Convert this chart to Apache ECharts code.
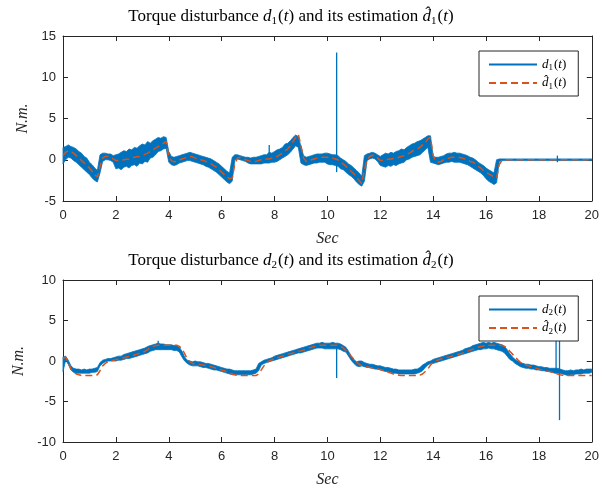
<!DOCTYPE html>
<html>
<head>
<meta charset="utf-8">
<script src="https://cdn.jsdelivr.net/npm/echarts@6/dist/echarts.min.js"></script>
</head>
<body style="margin:0;background:#fff">
<div id="main" style="width:602px;height:489px"></div>
<script>
// samples every 0.1 s, t = 0 .. 20
var dt = 0.1;

// top plot: d1 noisy band (low / high) and the estimate d1hat
var d1Hi = [
  1.5,1.6,1.8,1.6,1.5,1.3,1.0,0.8,0.4,0.2,
  -0.3,-0.6,-1.0,-1.3,0.6,0.8,0.8,0.7,0.7,0.5,
  0.6,0.7,0.9,1.1,1.0,1.3,1.2,1.5,1.4,1.7,
  1.9,1.8,2.2,2.0,2.3,2.5,2.7,2.6,2.8,2.7,
  1.0,0.4,0.3,0.4,0.5,0.6,0.7,0.8,0.9,0.8,
  0.7,0.6,0.5,0.4,0.3,0.2,0.1,-0.1,-0.3,-0.5,
  -0.8,-1.1,-1.4,-1.6,0.3,0.6,0.6,0.5,0.4,0.3,
  0.3,0.2,0.3,0.3,0.4,0.5,0.6,0.6,0.9,0.8,
  1.0,1.2,1.3,1.5,1.9,2.0,2.3,2.7,3.0,2.8,
  1.6,0.5,0.3,0.4,0.5,0.6,0.7,0.7,0.7,0.8,
  0.8,0.7,0.6,0.6,0.5,0.2,0.0,-0.2,-0.5,-0.7,
  -1.0,-1.3,-1.6,-2.0,0.5,0.7,0.8,0.9,0.8,0.6,
  0.4,0.6,0.8,0.7,0.9,0.8,1.0,1.1,1.3,1.2,
  1.5,1.7,1.9,2.0,2.2,2.3,2.5,2.7,2.9,2.9,
  0.4,0.3,0.3,0.4,0.5,0.7,0.8,0.8,0.9,0.8,
  0.8,0.7,0.6,0.5,0.3,0.2,0.0,-0.3,-0.5,-0.7,
  -1.0,-1.2,-1.4,-1.6,0.0,0.1,0.1,0.1,0.1,0.1,
  0.1,0.1,0.1,0.1,0.1,0.1,0.1,0.1,0.1,0.1,
  0.1,0.1,0.1,0.1,0.1,0.1,0.1,0.1,0.1,0.1,
  0.1,0.1,0.1,0.1,0.1,0.1,0.1,0.1,0.1,0.1,
  0.1
];
var d1Lo = [
  -0.5,0.0,0.3,0.2,-0.1,-0.3,-0.6,-0.9,-1.2,-1.5,
  -1.8,-2.2,-2.5,-2.7,-1.6,-0.2,0.0,0.0,-0.1,-0.3,
  -1.1,-1.0,-1.2,-0.9,-0.8,-1.0,-0.7,-0.6,-0.8,-0.4,
  -0.5,-0.2,-0.3,0.2,0.3,0.6,1.0,1.1,1.3,1.4,
  -0.3,-0.6,-0.7,-0.6,-0.4,-0.3,-0.2,-0.1,-0.1,-0.2,
  -0.3,-0.4,-0.5,-0.6,-0.8,-0.9,-1.1,-1.3,-1.5,-1.8,
  -2.1,-2.4,-2.7,-2.9,-2.6,0.0,0.1,0.0,-0.1,-0.2,
  -0.4,-0.5,-0.5,-0.5,-0.5,-0.5,-0.4,-0.4,-0.4,-0.3,
  -0.3,-0.2,0.0,0.2,0.4,0.6,0.9,1.3,1.7,1.5,
  -0.4,-0.6,-0.7,-0.6,-0.5,-0.4,-0.4,-0.3,-0.3,-0.3,
  -0.5,-0.6,-0.6,-0.7,-0.8,-1.1,-1.2,-1.5,-1.8,-2.0,
  -2.3,-2.7,-3.0,-3.2,-2.6,-0.1,0.1,0.2,0.1,-0.2,
  -0.7,-0.8,-0.9,-0.7,-0.8,-0.6,-0.7,-0.5,-0.4,-0.3,
  0.0,0.1,0.3,0.4,0.5,0.6,0.9,1.2,1.5,-0.3,
  -0.4,-0.5,-0.6,-0.5,-0.4,-0.3,-0.3,-0.2,-0.3,-0.3,
  -0.3,-0.4,-0.5,-0.6,-0.8,-1.0,-1.2,-1.4,-1.6,-1.9,
  -2.3,-2.6,-2.8,-3.0,-2.8,-0.2,-0.1,-0.1,-0.1,-0.1,
  -0.1,-0.1,-0.1,-0.1,-0.1,-0.1,-0.1,-0.1,-0.1,-0.1,
  -0.1,-0.1,-0.1,-0.1,-0.1,-0.1,-0.1,-0.1,-0.1,-0.1,
  -0.1,-0.1,-0.1,-0.1,-0.1,-0.1,-0.1,-0.1,-0.1,-0.1,
  -0.1
];
var d1Est = [
  0.5,0.9,1.1,1.0,0.8,0.5,0.2,-0.1,-0.4,-0.7,
  -1.0,-1.4,-1.8,-2.1,-0.8,0.2,0.4,0.4,0.3,0.1,
  -0.1,-0.1,-0.05,0.0,0.05,0.1,0.2,0.3,0.35,0.4,
  0.5,0.65,0.8,1.0,1.2,1.4,1.6,1.8,2.0,2.2,
  0.4,-0.1,-0.25,-0.2,0.0,0.1,0.2,0.3,0.4,0.35,
  0.2,0.1,0.0,-0.1,-0.2,-0.3,-0.5,-0.7,-0.9,-1.2,
  -1.5,-1.8,-2.1,-2.3,-2.2,-0.5,0.2,0.3,0.2,0.0,
  -0.1,-0.2,-0.2,-0.2,-0.1,0.0,0.0,0.1,0.1,0.2,
  0.3,0.4,0.6,0.8,1.1,1.3,1.7,2.2,2.7,3.1,
  1.7,0.2,-0.2,-0.2,0.0,0.1,0.2,0.25,0.3,0.3,
  0.3,0.25,0.2,0.1,0.0,-0.3,-0.5,-0.8,-1.1,-1.4,
  -1.7,-2.1,-2.5,-2.9,-1.2,0.0,0.4,0.55,0.5,0.2,
  -0.1,-0.1,0.0,0.05,0.1,0.15,0.2,0.3,0.4,0.5,
  0.7,0.8,1.0,1.2,1.3,1.5,1.8,2.1,2.5,2.7,
  0.5,-0.2,-0.3,-0.2,0.0,0.1,0.2,0.3,0.3,0.3,
  0.28,0.2,0.1,0.0,-0.2,-0.3,-0.5,-0.8,-1.0,-1.3,
  -1.5,-1.7,-1.9,-2.1,-2.2,-0.6,-0.1,0.0,0.0,0.0,
  0,0,0,0,0,0,0,0,0,0,
  0,0,0,0,0,0,0,0,0,0,
  0,0,0,0,0,0,0,0,0,0,
  0
];
// isolated spikes in d1: [t, from, to]
var d1Spikes = [[7.8, 0.0, 1.8], [10.35, -1.5, 13.0], [18.7, -0.3, 0.5]];

// bottom plot: d2 band and d2hat
var d2Hi = [
  0.5,0.6,0.1,-0.6,-0.9,-1.0,-1.0,-1.1,-1.0,-1.1,
  -1.0,-1.0,-0.9,-0.8,-0.2,0.1,0.2,0.3,0.3,0.4,
  0.5,0.6,0.6,0.8,0.9,1.0,1.1,1.2,1.3,1.4,
  1.5,1.6,1.8,1.9,2.0,2.1,2.2,2.1,2.1,2.0,
  2.0,2.0,1.9,1.9,1.7,1.2,0.5,0.1,0.0,-0.1,
  0.0,-0.1,-0.1,-0.2,-0.3,-0.3,-0.4,-0.5,-0.6,-0.7,
  -0.8,-0.9,-1.0,-1.0,-1.1,-1.2,-1.2,-1.2,-1.2,-1.2,
  -1.2,-1.2,-1.1,-1.0,-0.3,-0.1,0.1,0.2,0.3,0.4,
  0.6,0.7,0.8,0.9,1.0,1.1,1.2,1.3,1.4,1.5,
  1.6,1.7,1.8,1.9,2.0,2.1,2.2,2.2,2.3,2.2,
  2.2,2.2,2.3,2.2,2.2,2.1,1.9,1.7,1.2,0.6,
  0.2,-0.1,0.0,0.0,-0.2,-0.3,-0.4,-0.4,-0.5,-0.6,
  -0.6,-0.7,-0.8,-0.8,-0.9,-1.0,-1.0,-1.1,-1.1,-1.1,
  -1.1,-1.1,-1.1,-1.0,-1.0,-0.8,-0.5,-0.3,-0.1,0.0,
  0.2,0.3,0.4,0.5,0.6,0.7,0.8,0.9,1.0,1.1,
  1.2,1.3,1.5,1.6,1.7,1.9,2.0,2.1,2.2,2.3,
  2.2,2.3,2.2,2.3,2.2,2.1,2.0,1.8,1.4,0.9,
  0.5,0.2,0.0,-0.2,-0.3,-0.4,-0.4,-0.5,-0.5,-0.6,
  -0.7,-0.7,-0.8,-0.8,-0.9,-0.9,-0.9,-0.9,-1.0,-1.1,
  -1.2,-1.2,-1.1,-1.2,-1.1,-1.1,-1.0,-1.1,-1.0,-1.0,
  -1.0
];
var d2Lo = [
  -1.3,0.1,-0.4,-1.1,-1.4,-1.5,-1.5,-1.5,-1.5,-1.5,
  -1.5,-1.4,-1.4,-1.3,-0.6,-0.3,-0.1,0.0,0.0,0.0,
  0.0,0.1,0.1,0.2,0.3,0.3,0.4,0.5,0.6,0.7,
  0.8,0.9,1.0,1.2,1.3,1.4,1.4,1.4,1.4,1.4,
  1.4,1.4,1.3,1.3,1.1,0.5,0.0,-0.3,-0.5,-0.6,
  -0.6,-0.6,-0.7,-0.8,-0.8,-0.9,-1.0,-1.1,-1.1,-1.2,
  -1.3,-1.4,-1.5,-1.6,-1.7,-1.7,-1.7,-1.7,-1.7,-1.7,
  -1.7,-1.7,-1.6,-1.5,-1.2,-0.5,-0.3,-0.2,-0.1,0.0,
  0.1,0.2,0.3,0.4,0.5,0.6,0.7,0.8,0.9,1.0,
  1.0,1.1,1.2,1.3,1.4,1.5,1.6,1.6,1.6,1.5,
  1.5,1.5,1.5,1.5,1.5,1.4,1.2,1.1,0.6,0.1,
  -0.3,-0.6,-0.7,-0.6,-0.7,-0.8,-0.8,-0.9,-1.0,-1.0,
  -1.1,-1.2,-1.3,-1.3,-1.4,-1.5,-1.5,-1.6,-1.6,-1.6,
  -1.6,-1.6,-1.6,-1.6,-1.5,-1.4,-1.2,-0.8,-0.5,-0.3,
  -0.3,-0.2,-0.1,0.0,0.1,0.2,0.3,0.4,0.5,0.6,
  0.7,0.8,0.9,1.0,1.1,1.2,1.3,1.4,1.4,1.5,
  1.5,1.6,1.5,1.5,1.4,1.3,1.2,1.0,0.6,0.2,
  0.0,-0.3,-0.5,-0.7,-0.8,-0.9,-0.9,-1.0,-1.0,-1.1,
  -1.1,-1.2,-1.2,-1.3,-1.3,-1.4,-1.5,-1.5,-1.5,-1.6,
  -1.7,-1.8,-1.7,-1.7,-1.6,-1.6,-1.6,-1.5,-1.5,-1.5,
  -1.4
];
var d2Est = [
  0.3,0.5,-0.2,-1.0,-1.4,-1.6,-1.7,-1.8,-1.8,-1.8,
  -1.8,-1.8,-1.8,-1.7,-1.2,-0.6,-0.3,-0.1,0.0,0.1,
  0.16,0.25,0.3,0.4,0.5,0.55,0.65,0.75,0.85,0.95,
  1.05,1.2,1.4,1.65,1.8,1.9,1.95,1.95,1.95,1.95,
  1.95,1.95,1.95,1.95,1.8,1.5,0.9,0.25,-0.1,-0.3,
  -0.37,-0.4,-0.45,-0.5,-0.55,-0.6,-0.7,-0.8,-0.9,-1.0,
  -1.1,-1.2,-1.35,-1.5,-1.6,-1.7,-1.8,-1.8,-1.8,-1.8,
  -1.8,-1.8,-1.8,-1.8,-1.6,-1.1,-0.6,-0.2,0.0,0.15,
  0.3,0.4,0.5,0.6,0.75,0.85,0.9,1.0,1.1,1.2,
  1.25,1.35,1.45,1.6,1.7,1.8,1.9,1.95,1.95,1.95,
  1.95,1.95,1.95,1.95,1.95,1.85,1.6,1.3,1.05,0.6,
  0.25,-0.1,-0.4,-0.57,-0.65,-0.7,-0.8,-0.85,-0.9,-1.0,
  -1.05,-1.15,-1.25,-1.4,-1.5,-1.6,-1.7,-1.75,-1.8,-1.8,
  -1.8,-1.8,-1.8,-1.8,-1.8,-1.75,-1.6,-1.3,-0.98,-0.5,
  -0.16,0.0,0.15,0.25,0.35,0.45,0.5,0.6,0.7,0.8,
  0.85,0.95,1.1,1.2,1.35,1.45,1.6,1.7,1.8,1.85,
  1.95,1.95,1.95,1.95,1.95,1.95,1.95,1.8,1.6,1.2,
  0.85,0.5,0.15,-0.16,-0.35,-0.5,-0.6,-0.7,-0.8,-0.9,
  -1.0,-1.1,-1.15,-1.25,-1.3,-1.4,-1.5,-1.6,-1.7,-1.75,
  -1.8,-1.8,-1.8,-1.8,-1.8,-1.8,-1.8,-1.8,-1.8,-1.8,
  -1.8
];
var d2Spikes = [[3.6, 1.5, 2.5], [10.35, -2.1, 2.1], [18.65, -1.5, 3.5], [18.78, -7.3, 3.5]];

var xTicks = [0, 20, 2];
var y1Ticks = [-5, 15, 5];
var y2Ticks = [-10, 10, 5];

var blue = '#0072BD';
var red = '#D95319';
var axisColor = '#262626';
var serif = 'Liberation Serif';

function tAt(i) { return +(i * dt).toFixed(1); }
function line(vals) {
  return vals.map(function (v, i) { return [tAt(i), v]; });
}

// filled band between the low and high envelope of the noisy signal
function bandSeries(lo, hi, ax) {
  return {
    type: 'custom', xAxisIndex: ax, yAxisIndex: ax, data: [0], silent: true, z: 2,
    renderItem: function (params, api) {
      var pts = [];
      for (var i = 0; i < hi.length; i++) pts.push(api.coord([tAt(i), hi[i]]));
      for (var j = lo.length - 1; j >= 0; j--) pts.push(api.coord([tAt(j), lo[j]]));
      return { type: 'polygon', shape: { points: pts },
        style: { fill: blue, stroke: blue, lineWidth: 0.8 } };
    }
  };
}
function spikeSeries(spikes, ax) {
  return {
    type: 'custom', xAxisIndex: ax, yAxisIndex: ax, data: spikes, silent: true, z: 2,
    renderItem: function (params, api) {
      var a = api.coord([api.value(0), api.value(1)]);
      var b = api.coord([api.value(0), api.value(2)]);
      return { type: 'line', shape: { x1: a[0], y1: a[1], x2: b[0], y2: b[1] },
        style: { stroke: blue, lineWidth: 1.3 } };
    }
  };
}

var rich = {
  n: { fontFamily: serif, fontSize: 17, fontWeight: 'normal', color: '#000' },
  i: { fontFamily: serif, fontSize: 17, fontWeight: 'normal', fontStyle: 'italic', color: '#000' },
  s: { fontFamily: serif, fontSize: 11, fontWeight: 'normal', color: '#000', padding: [9, 1, 0, 0] }
};
var legRich = {
  i: { fontFamily: serif, fontSize: 13, fontStyle: 'italic', color: '#000' },
  n: { fontFamily: serif, fontSize: 13, color: '#000' },
  s: { fontFamily: serif, fontSize: 9, color: '#000', padding: [7, 1, 0, 0] }
};
var legNames = {
  d1: '{i|d}{s|1}{n|(}{i|t}{n|)}',
  d1h: '{i|d\u0302}{s|1}{n|(}{i|t}{n|)}',
  d2: '{i|d}{s|2}{n|(}{i|t}{n|)}',
  d2h: '{i|d\u0302}{s|2}{n|(}{i|t}{n|)}'
};

function xAx(grid, top) {
  return {
    type: 'value', gridIndex: grid, position: top ? 'top' : 'bottom',
    min: xTicks[0], max: xTicks[1], interval: xTicks[2],
    axisLine: { onZero: false, lineStyle: { color: axisColor, width: 1 } },
    axisTick: { inside: true, length: 5, lineStyle: { color: axisColor } },
    axisLabel: { show: !top, color: axisColor, fontFamily: 'Liberation Sans', fontSize: 13, margin: 8 },
    splitLine: { show: false },
    name: top ? '' : 'Sec', nameLocation: 'middle', nameGap: 30,
    nameTextStyle: { fontFamily: serif, fontStyle: 'italic', fontSize: 16, color: axisColor }
  };
}
function yAx(grid, ticks, right) {
  return {
    type: 'value', gridIndex: grid, position: right ? 'right' : 'left',
    min: ticks[0], max: ticks[1], interval: ticks[2],
    axisLine: { onZero: false, lineStyle: { color: axisColor, width: 1 } },
    axisTick: { inside: true, length: 5, lineStyle: { color: axisColor } },
    axisLabel: { show: !right, color: axisColor, fontFamily: 'Liberation Sans', fontSize: 13, margin: 7 },
    splitLine: { show: false },
    name: right ? '' : 'N.m.', nameLocation: 'middle', nameGap: 31, nameRotate: 90,
    nameTextStyle: { fontFamily: serif, fontStyle: 'italic', fontSize: 16, color: axisColor }
  };
}
function legend(names, top) {
  return {
    data: names, orient: 'vertical', left: 479, top: top,
    itemWidth: 48, itemHeight: 10, itemGap: 4,
    padding: [7, 12, 5, 9],
    borderColor: axisColor, borderWidth: 1, backgroundColor: '#fff',
    itemStyle: { opacity: 0 },
    formatter: function (n) { return legNames[n]; },
    textStyle: { rich: legRich }
  };
}

var chart = echarts.init(document.getElementById('main'));
chart.setOption({
  animation: false,
  backgroundColor: '#fff',
  title: [
    { text: '{n|Torque disturbance }{i|d}{s|1}{n|(}{i|t}{n|) and its estimation }{i|d\u0302}{s|1}{n|(}{i|t}{n|)}',
      left: 286, top: 2, textAlign: 'center', textStyle: { rich: rich, fontWeight: 'normal' } },
    { text: '{n|Torque disturbance }{i|d}{s|2}{n|(}{i|t}{n|) and its estimation }{i|d\u0302}{s|2}{n|(}{i|t}{n|)}',
      left: 286, top: 246, textAlign: 'center', textStyle: { rich: rich, fontWeight: 'normal' } }
  ],
  grid: [
    { left: 63, right: 5, top: 36, height: 165 },
    { left: 63, right: 5, top: 280, height: 164 }
  ],
  xAxis: [xAx(0, false), xAx(0, true), xAx(1, false), xAx(1, true)],
  yAxis: [yAx(0, y1Ticks, false), yAx(0, y1Ticks, true), yAx(1, y2Ticks, false), yAx(1, y2Ticks, true)],
  legend: [legend(['d1', 'd1h'], 51), legend(['d2', 'd2h'], 296)],
  series: [
    bandSeries(d1Lo, d1Hi, 0),
    spikeSeries(d1Spikes, 0),
    { name: 'd1', type: 'line', xAxisIndex: 0, yAxisIndex: 0, data: [],
      symbol: 'none', lineStyle: { color: blue, width: 1.5 }, itemStyle: { color: blue } },
    { name: 'd1h', type: 'line', xAxisIndex: 0, yAxisIndex: 0, data: line(d1Est), z: 3,
      symbol: 'none', lineStyle: { color: red, width: 1.5, type: [7, 4] }, itemStyle: { color: red } },
    bandSeries(d2Lo, d2Hi, 2),
    spikeSeries(d2Spikes, 2),
    { name: 'd2', type: 'line', xAxisIndex: 2, yAxisIndex: 2, data: [],
      symbol: 'none', lineStyle: { color: blue, width: 1.5 }, itemStyle: { color: blue } },
    { name: 'd2h', type: 'line', xAxisIndex: 2, yAxisIndex: 2, data: line(d2Est), z: 3,
      symbol: 'none', lineStyle: { color: red, width: 1.5, type: [7, 4] }, itemStyle: { color: red } }
  ]
});
</script>
</body>
</html>
